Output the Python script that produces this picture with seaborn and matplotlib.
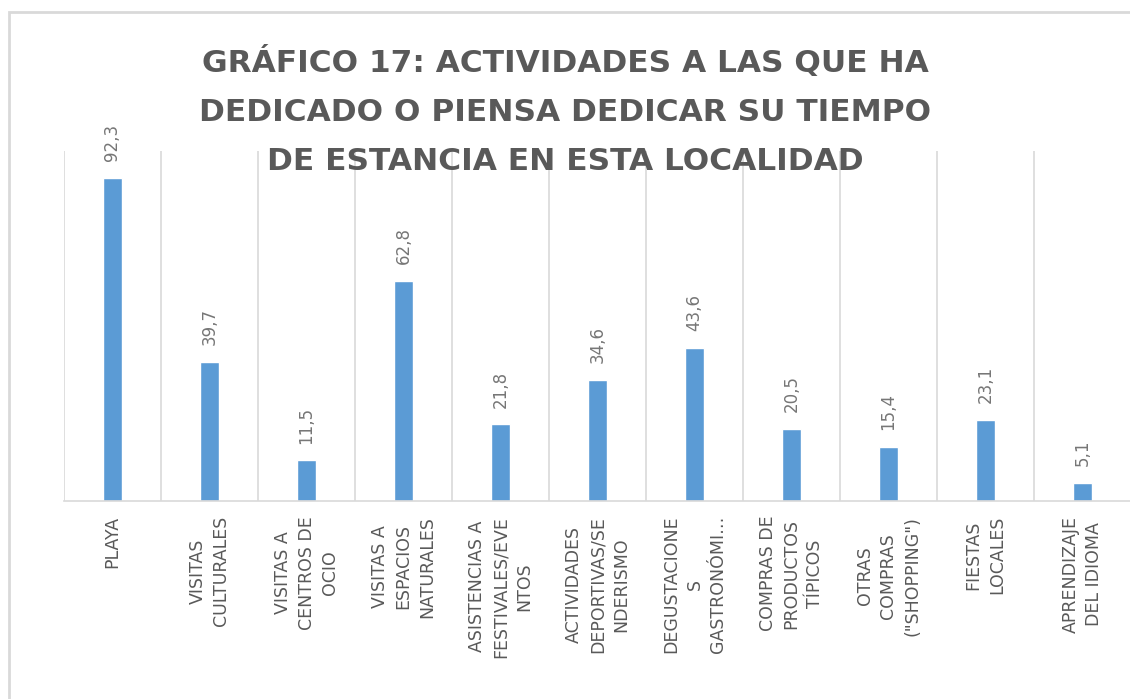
import matplotlib
matplotlib.use('Agg')
import matplotlib.pyplot as plt
import seaborn as sns
from matplotlib.patches import Rectangle

categories = [
    'PLAYA',
    'VISITAS\nCULTURALES',
    'VISITAS A\nCENTROS DE\nOCIO',
    'VISITAS A\nESPACIOS\nNATURALES',
    'ASISTENCIAS A\nFESTIVALES/EVE\nNTOS',
    'ACTIVIDADES\nDEPORTIVAS/SE\nNDERISMO',
    'DEGUSTACIONE\nS\nGASTRONÓMI…',
    'COMPRAS DE\nPRODUCTOS\nTÍPICOS',
    'OTRAS\nCOMPRAS\n("SHOPPING")',
    'FIESTAS\nLOCALES',
    'APRENDIZAJE\nDEL IDIOMA',
]
values = [92.3, 39.7, 11.5, 62.8, 21.8, 34.6, 43.6, 20.5, 15.4, 23.1, 5.1]

title = ('GRÁFICO 17: ACTIVIDADES A LAS QUE HA\n'
         'DEDICADO O PIENSA DEDICAR SU TIEMPO\n'
         'DE ESTANCIA EN ESTA LOCALIDAD')

sns.set_style('white')
plt.rcParams['font.family'] = ['DejaVu Sans']

text_gray = '#595959'
grid_gray = '#D9D9D9'
bar_blue = '#5B9BD5'

fig = plt.figure(figsize=(11.3, 6.99), dpi=100)
# axes runs a bit past the right edge, like the cropped original
ax = fig.add_axes([64 / 1130, 198.5 / 699, 1067 / 1130, 349.5 / 699])

sns.barplot(x=categories, y=values, color=bar_blue, width=0.19,
            saturation=1, ax=ax)

ax.set_ylim(0, 100)
ax.set_xlim(-0.5, len(categories) - 0.5)
ax.set_yticks([])
ax.set_xlabel('')
ax.set_ylabel('')

# vertical separators between categories
ax.set_xticks([i - 0.5 for i in range(len(categories) + 1)], minor=True)
ax.grid(False)
ax.grid(True, which='minor', axis='x', color=grid_gray, linewidth=1.2)
ax.tick_params(axis='x', which='both', length=0)
ax.tick_params(axis='x', which='major', pad=11, labelsize=12.5,
               labelcolor=text_gray)
for lbl in ax.get_xticklabels():
    lbl.set_rotation(90)
    lbl.set_linespacing(1.4)

for side in ['left', 'right', 'top']:
    ax.spines[side].set_visible(False)
ax.spines['bottom'].set_color(grid_gray)
ax.spines['bottom'].set_linewidth(1.2)

ax.bar_label(ax.containers[0],
             labels=[f'{v:.1f}'.replace('.', ',') for v in values],
             rotation=90, padding=12, fontsize=12, color='#767676')

fig.text(0.5, 1 - 111 / 699, title, ha='center', va='center',
         fontsize=22.5, fontweight='bold', color=text_gray, linespacing=1.85)

# chart area border
fig.patches.append(Rectangle((9 / 1130, -0.1), 1.2, 1 - 12 / 699 + 0.1,
                             transform=fig.transFigure, fill=False,
                             edgecolor=grid_gray, linewidth=2))

fig.savefig('out.png', dpi=100)
